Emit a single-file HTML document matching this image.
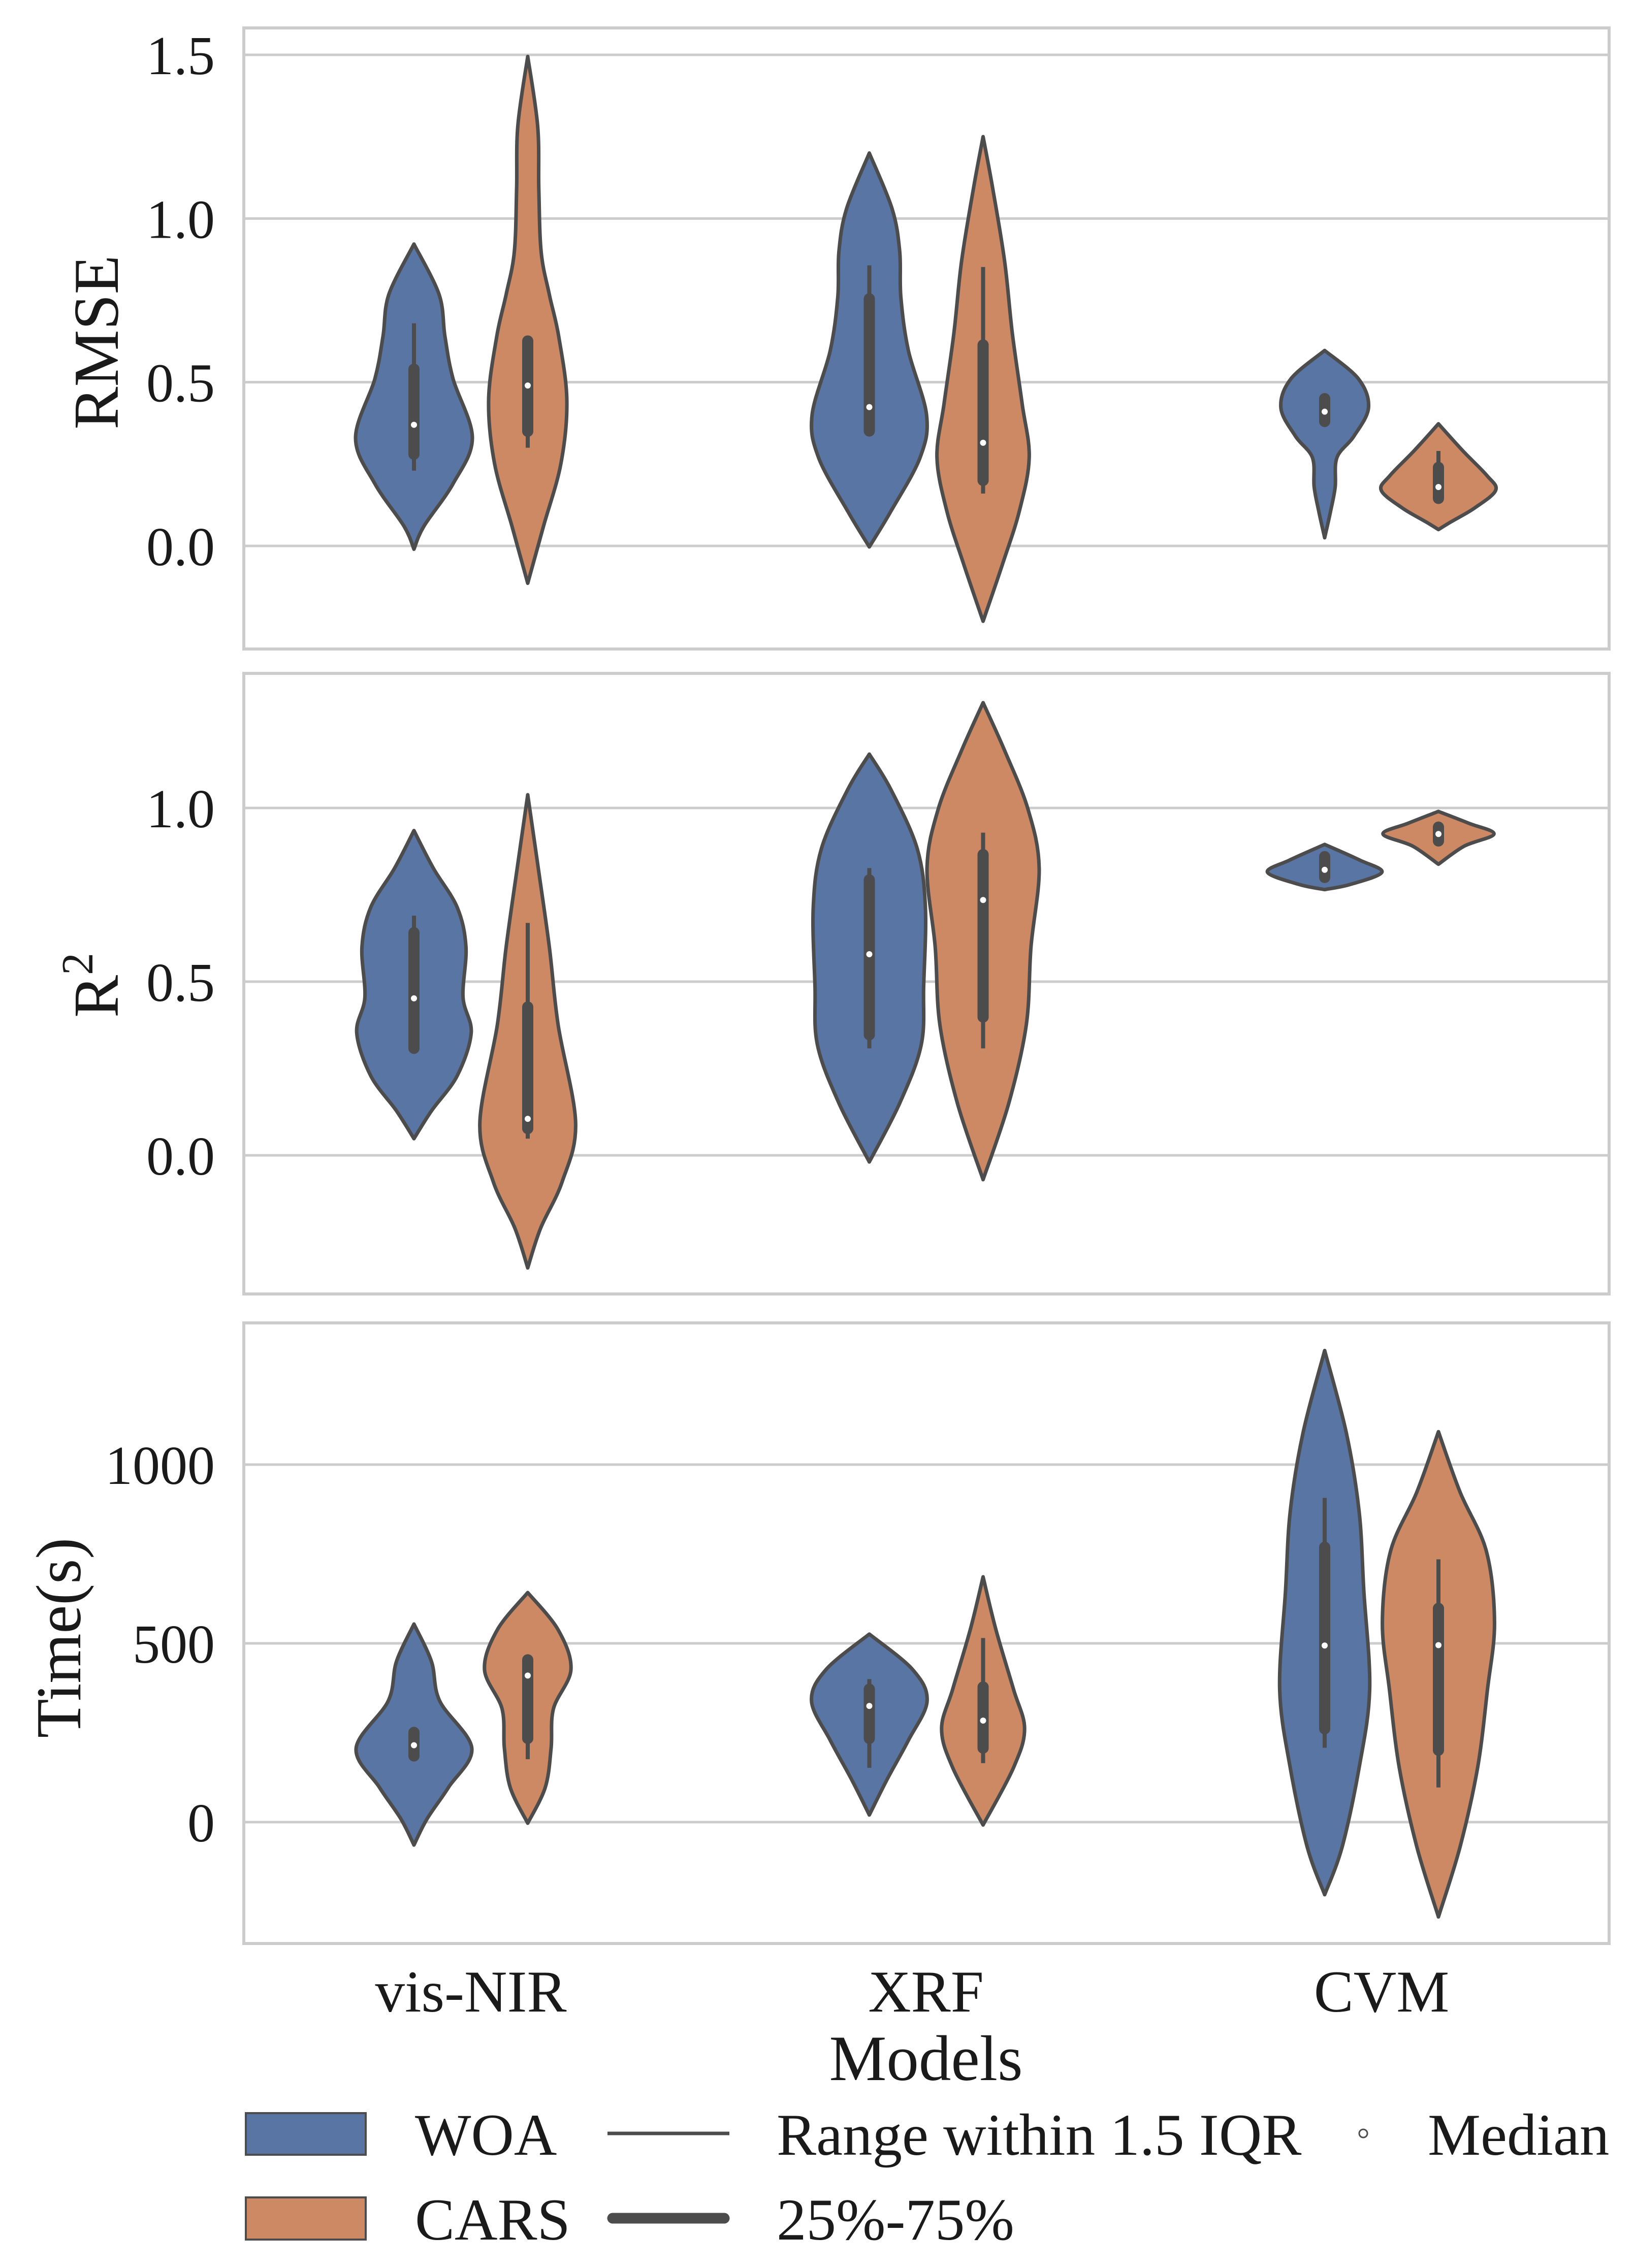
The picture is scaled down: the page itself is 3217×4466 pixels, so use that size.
<!DOCTYPE html>
<html><head><meta charset="utf-8">
<style>
html,body{margin:0;padding:0;background:#fff;}
svg{display:block;}
text{font-family:"Liberation Serif","Times New Roman",serif;fill:#1a1a1a;}
</style></head>
<body>
<svg id="chart" width="3217" height="4466" viewBox="0 0 3217 4466" xmlns="http://www.w3.org/2000/svg">
<rect x="0" y="0" width="3217" height="4466" fill="#fff"/>
<g id="panels"></g>
<g id="xaxis">
<text x="927" y="3961" font-size="117" text-anchor="middle">vis-NIR</text>
<text x="1823" y="3961" font-size="117" text-anchor="middle">XRF</text>
<text x="2720" y="3961" font-size="117" text-anchor="middle">CVM</text>
<text x="1823" y="4096" font-size="127" text-anchor="middle">Models</text>
</g>
<g id="legend">
<g>
<rect x="484" y="4161" width="236" height="82" fill="#5975a4" stroke="#4c4c4c" stroke-width="4"/>
<text x="817" y="4243" font-size="117">WOA</text>
</g>
<g>
<rect x="484" y="4327" width="236" height="83" fill="#cc8963" stroke="#4c4c4c" stroke-width="4"/>
<text x="817" y="4410" font-size="117">CARS</text>
</g>
<g>
<line x1="1196" y1="4201" x2="1436" y2="4201" stroke="#4c4c4c" stroke-width="7"/>
<text x="1529" y="4243" font-size="117">Range within 1.5 IQR</text>
</g>
<g>
<line x1="1206" y1="4368" x2="1426" y2="4368" stroke="#4c4c4c" stroke-width="21" stroke-linecap="round"/>
<text x="1529" y="4410" font-size="117">25%-75%</text>
</g>
<g>
<circle cx="2684" cy="4201" r="8" fill="#fff" stroke="#4c4c4c" stroke-width="3"/>
<text x="2811" y="4243" font-size="117">Median</text>
</g>
</g>
</svg>
<script>
// ---- data ----
const categories = ["vis-NIR","XRF","CVM"];
const hues = ["WOA","CARS"];
// Panel 1 RMSE: profiles as [value, relative density]
const rmseProfiles = [
 [[0.922,0],[0.768,0.43],[0.64,0.53],[0.51,0.67],[0.33,1.0],[0.19,0.67],[0.06,0.17],[-0.01,0]],
 [[1.495,0],[1.283,0.17],[1.09,0.19],[0.897,0.23],[0.768,0.37],[0.64,0.53],[0.446,0.67],[0.253,0.57],[0.06,0.27],[-0.114,0]],
 [[1.20,0],[1.03,0.39],[0.90,0.52],[0.76,0.54],[0.596,0.67],[0.40,0.98],[0.27,0.87],[0.106,0.37],[-0.003,0]],
 [[1.25,0],[1.087,0.17],[0.868,0.37],[0.65,0.5],[0.433,0.67],[0.27,0.79],[0.106,0.62],[-0.057,0.33],[-0.23,0]],
 [[0.597,0],[0.51,0.58],[0.422,0.75],[0.335,0.5],[0.27,0.21],[0.18,0.18],[0.105,0.1],[0.025,0]],
 [[0.373,0],[0.29,0.42],[0.215,0.83],[0.17,0.98],[0.116,0.62],[0.073,0.21],[0.05,0]]
];
// [whiskerLow, q1, median, q3, whiskerHigh]
const rmseStats = [[0.23,0.28,0.37,0.54,0.68],[0.30,0.35,0.49,0.626,0.63],[0.34,0.351,0.424,0.755,0.857],[0.16,0.20,0.315,0.614,0.852],[0.375,0.38,0.41,0.45,0.455],[0.14,0.145,0.18,0.24,0.29]];
const r2Profiles = [
 [[0.935,0],[0.827,0.33],[0.714,0.74],[0.60,0.89],[0.455,0.84],[0.353,0.98],[0.229,0.74],[0.128,0.3],[0.048,0]],
 [[1.038,0],[0.827,0.18],[0.60,0.37],[0.376,0.52],[0.093,0.82],[-0.076,0.59],[-0.21,0.22],[-0.324,0]],
 [[1.155,0],[1.053,0.37],[0.883,0.82],[0.714,0.96],[0.488,0.93],[0.319,0.89],[0.15,0.52],[-0.019,0]],
 [[1.303,0],[1.165,0.37],[0.996,0.77],[0.827,0.96],[0.60,0.82],[0.376,0.74],[0.15,0.44],[-0.07,0]],
 [[0.895,0],[0.85,0.6],[0.815,0.98],[0.78,0.44],[0.765,0]],
 [[0.99,0],[0.956,0.52],[0.925,0.95],[0.89,0.44],[0.838,0]]
];
const r2Stats = [[0.297,0.308,0.452,0.641,0.69],[0.048,0.077,0.105,0.427,0.669],[0.308,0.347,0.579,0.793,0.827],[0.308,0.398,0.735,0.866,0.929],[0.80,0.80,0.822,0.86,0.86],[0.905,0.905,0.925,0.945,0.945]];
const timeProfiles = [
 [[554,0],[449,0.3],[339,0.44],[207,0.99],[97,0.59],[8,0.22],[-64,0]],
 [[642,0],[538,0.52],[427,0.74],[317,0.44],[207,0.4],[97,0.3],[-3,0]],
 [[526,0],[427,0.74],[339,0.99],[229,0.67],[118,0.3],[20,0]],
 [[686,0],[538,0.22],[372,0.52],[261,0.71],[152,0.52],[-8,0]],
 [[1319,0],[1089,0.37],[869,0.59],[647,0.67],[372,0.77],[152,0.59],[-69,0.3],[-203,0]],
 [[1092,0],[923,0.37],[758,0.82],[559,0.96],[372,0.84],[152,0.67],[-69,0.37],[-265,0]]
];
const timeStats = [[185,185,215,251,251],[176,234,410,454,460],[152,234,325,372,400],[165,207,284,378,515],[208,261,494,769,907],[97,201,495,598,735]];
const rmseTicks = [0.0,0.5,1.0,1.5];
const r2Ticks = [0.0,0.5,1.0];
const timeTicks = [0,500,1000];
const rmseTickLabels = ["0.0","0.5","1.0","1.5"];
const r2TickLabels = ["0.0","0.5","1.0"];
const timeTickLabels = ["0","500","1000"];

// ---- layout ----
const L=480, R=3168, catX0=927, catStep=896.5, dodge=112, H=115;
const colors=["#5975a4","#cc8963"];
const panels=[
 {name:"rmse",top:55,bot:1278,v0:0,y0:1075,v1:1.5,y1:108,ticks:rmseTicks,labels:rmseTickLabels,prof:rmseProfiles,stats:rmseStats},
 {name:"r2",top:1326,bot:2548,v0:0,y0:2275,v1:1.0,y1:1591,ticks:r2Ticks,labels:r2TickLabels,prof:r2Profiles,stats:r2Stats},
 {name:"time",top:2605,bot:3827,v0:0,y0:3588,v1:1000,y1:2884,ticks:timeTicks,labels:timeTickLabels,prof:timeProfiles,stats:timeStats}
];
const NS="http://www.w3.org/2000/svg";
function mk(tag,attrs,parent){const e=document.createElementNS(NS,tag);for(const k in attrs)e.setAttribute(k,attrs[k]);parent.appendChild(e);return e;}
function xPos(ci,hi){return catX0+ci*catStep+(hi===0?-dodge:dodge);}
function smoothSide(pts){ // catmull-rom to bezier
 let d="";
 for(let i=0;i<pts.length-1;i++){
  const p0=pts[Math.max(0,i-1)],p1=pts[i],p2=pts[i+1],p3=pts[Math.min(pts.length-1,i+2)];
  const c1=[p1[0]+(p2[0]-p0[0])/6,p1[1]+(p2[1]-p0[1])/6];
  const c2=[p2[0]-(p3[0]-p1[0])/6,p2[1]-(p3[1]-p1[1])/6];
  d+=` C${c1[0].toFixed(1)},${c1[1].toFixed(1)} ${c2[0].toFixed(1)},${c2[1].toFixed(1)} ${p2[0].toFixed(1)},${p2[1].toFixed(1)}`;
 }
 return d;
}
const root=document.getElementById("panels");
panels.forEach((p,pi)=>{
 const yS=v=>p.y0+(v-p.v0)*(p.y1-p.y0)/(p.v1-p.v0);
 const g=mk("g",{},root);
 
 
 const clipId="clip"+pi;
 const cp=mk("clipPath",{id:clipId},g);
 mk("rect",{x:L,y:p.top,width:R-L,height:p.bot-p.top},cp);
 p.ticks.forEach((t,ti)=>{
  const ln=mk("line",{x1:L,x2:R,y1:yS(t),y2:yS(t),stroke:"#cccccc","stroke-width":5},g);
  
  
  const tx=mk("text",{x:423,y:yS(t)+38,"font-size":108,"text-anchor":"end"},g);
  tx.textContent=p.labels[ti];
  
  
 });
 const vg=mk("g",{"clip-path":`url(#${clipId})`},g);
 p.prof.forEach((prof,k)=>{
  const ci=Math.floor(k/2),hi=k%2,cx=xPos(ci,hi);
  const right=prof.map(q=>[cx+q[1]*H,yS(q[0])]);
  const left=prof.slice().reverse().map(q=>[cx-q[1]*H,yS(q[0])]);
  let d=`M${right[0][0]},${right[0][1]}`+smoothSide(right)+` L${left[0][0]},${left[0][1]}`+smoothSide(left)+" Z";
  const path=mk("path",{d:d,fill:colors[hi],stroke:"#4c4c4c","stroke-width":7,"stroke-linejoin":"round"},vg);
  
  
  const s=p.stats[k];
  const wl=mk("line",{x1:cx,x2:cx,y1:yS(s[0]),y2:yS(s[4]),stroke:"#4c4c4c","stroke-width":8},vg);
  
  
  const bx=mk("line",{x1:cx,x2:cx,y1:yS(s[1]),y2:yS(s[3]),stroke:"#4c4c4c","stroke-width":22,"stroke-linecap":"round"},vg);
  
  
  const md=mk("circle",{cx:cx,cy:yS(s[2]),r:6,fill:"#fff"},vg);
  
  
 });
 const fr=mk("rect",{x:L,y:p.top,width:R-L,height:p.bot-p.top,fill:"none",stroke:"#cccccc","stroke-width":6},g);
 
 
});
// y axis titles
function ytitle(txt,x,y,name,sup){
 const t=mk("text",{x:x,y:y,"font-size":126,"text-anchor":"middle",transform:`rotate(-90 ${x} ${y})`},document.getElementById("chart"));
 if(sup){t.textContent=txt;const ts=mk("tspan",{"font-size":88,dy:-50},t);ts.textContent=sup;}
 else t.textContent=txt;
 
 
}
ytitle("RMSE",232,674,"y-axis-title-rmse");
ytitle("R",232,1940,"y-axis-title-r2","2");
ytitle("Time(s)",158,3225,"y-axis-title-time");
</script>
</body></html>
